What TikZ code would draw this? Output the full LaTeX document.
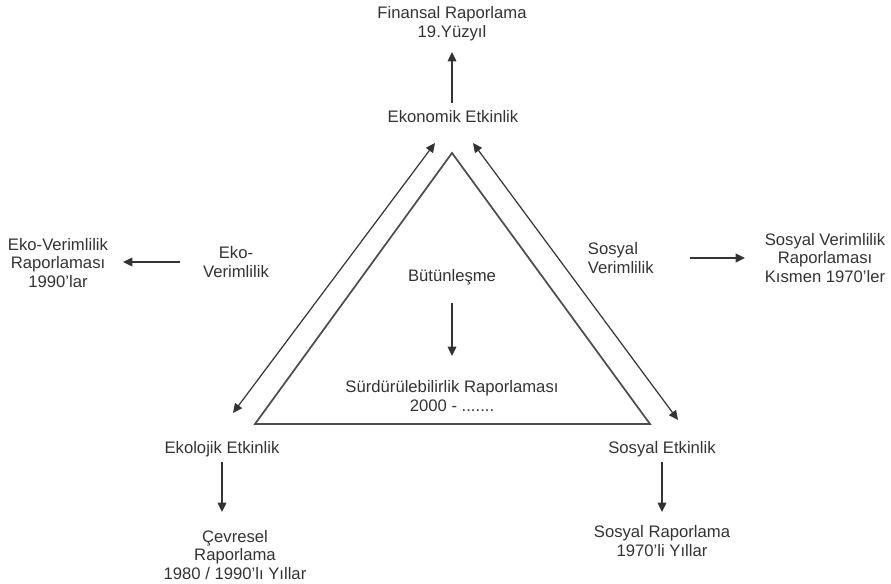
\documentclass[tikz,border=0pt]{standalone}
\usepackage{fontspec}
\setmainfont{Liberation Sans}
\usetikzlibrary{arrows.meta}
\definecolor{txt}{HTML}{333333}
\definecolor{ln}{HTML}{333333}
\definecolor{tri}{HTML}{4D4D4D}
\tikzset{
  lbl/.style={text=txt, font=\fontsize{12.5}{14}\selectfont, align=center, inner sep=2pt},
  lbll/.style={lbl, align=left},
  arr/.style={draw=ln, line width=1pt, -{Triangle[length=7pt,width=6.5pt]}},
  darr/.style={draw=ln, line width=0.9pt, {Triangle[length=7pt,width=6.5pt]}-{Triangle[length=7pt,width=6.5pt]}},
  trist/.style={draw=tri, line width=1.3pt, line join=miter}
}
\begin{document}
\begin{tikzpicture}[x=0.75pt,y=-0.75pt]
\useasboundingbox (0,0) rectangle (891,584);
% text nodes
\node[lbl] (fin) at (452,24) {Finansal Raporlama\\19.Yüzyıl};
\node[lbl] (ekon) at (453,117) {Ekonomik Etkinlik};
\node[lbl] (but) at (452,277) {Bütünleşme};
\node[lbl] (surd) at (452,396) {Sürdürülebilirlik Raporlaması\\2000 - .......};
\node[lbl] (ekov) at (236,262) {Eko-\\Verimlilik};
\node[lbl] (ekovr) at (58,263) {Eko-Verimlilik\\Raporlaması\\1990'lar};
\node[lbll, anchor=west] (sosv) at (585,258) {Sosyal\\Verimlilik};
\node[lbl] (sosvr) at (825,258) {Sosyal Verimlilik\\Raporlaması\\Kısmen 1970'ler};
\node[lbl] (ekol) at (222,449) {Ekolojik Etkinlik};
\node[lbl] (cev) at (235,555) {Çevresel\\Raporlama\\1980 / 1990'lı Yıllar};
\node[lbl] (sose) at (662,449) {Sosyal Etkinlik};
\node[lbl] (sosr) at (662,541) {Sosyal Raporlama\\1970'li Yıllar};
% triangle
\coordinate (apex) at (452,153);
\coordinate (bl) at (255,424);
\coordinate (br) at (650,424);
\draw[trist] (apex) -- (bl) -- (br) -- cycle;
% double arrows along triangle sides
\coordinate (la) at (233,413);
\coordinate (lb) at (435,143);
\coordinate (ra) at (473,143);
\coordinate (rb) at (678,420);
\draw[darr] (la) -- (lb);
\draw[darr] (ra) -- (rb);
% vertical arrows
\draw[arr] (fin |- 0,103) -- (fin |- 0,52);
\draw[arr] (but |- 0,303) -- (but |- 0,356);
\draw[arr] (ekol |- 0,462) -- (ekol |- 0,512);
\draw[arr] (sose |- 0,462) -- (sose |- 0,512);
% horizontal arrows
\draw[arr] (ekov -| 180,0) -- (ekov -| 123,0);
\draw[arr] (sosv -| 690,0) -- (sosv -| 745,0);
\end{tikzpicture}
\end{document}
